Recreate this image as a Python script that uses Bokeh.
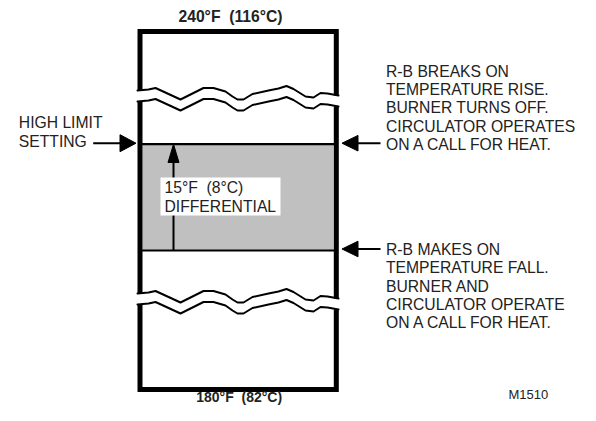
from bokeh.plotting import figure
from bokeh.models import Range1d
from bokeh.core.properties import value
from bokeh.embed import file_html
from bokeh.resources import INLINE

# ---- data ----
temps_f = [240, 180]          # top / bottom of the scale
temps_c = [116, 82]
diff_f, diff_c = 15, 8
high_limit_lines = ["HIGH LIMIT", "SETTING"]
breaks_lines = ["R-B BREAKS ON", "TEMPERATURE RISE.", "BURNER TURNS OFF.",
                "CIRCULATOR OPERATES", "ON A CALL FOR HEAT."]
makes_lines = ["R-B MAKES ON", "TEMPERATURE FALL.", "BURNER AND",
               "CIRCULATOR OPERATE", "ON A CALL FOR HEAT."]
fig_id = "M1510"

# break (wavy cut) outline shape
wave_x = [137, 148, 155, 167, 180, 192, 203, 213, 225, 232, 237, 243, 252,
          268, 278, 286, 293, 305, 313, 320, 327, 338]
wave_y = [90, 89, 87.5, 93, 99, 93, 87.5, 87.5, 91, 96, 99, 99, 93.5,
          90, 88, 85.5, 88.5, 96, 97, 92.5, 93, 95]

# ---- layout ----
XL, XR = 139.5, 335.8
YT, YB = 31, 389
GAP = 11
BOT_SHIFT = 203
HL, LL = 143.7, 250      # high limit / low (make) lines
FONT = value("Liberation Sans")
FS = "15.7px"
TXT = "#222222"
LH = 18.3
DY = -6                  # baseline correction for text placement

p = figure(width=580, height=405, x_range=Range1d(0, 580), y_range=Range1d(405, 0),
           output_backend="svg", toolbar_location=None,
           x_axis_type=None, y_axis_type=None, min_border=0)
p.outline_line_color = None
p.background_fill_color = "white"
p.border_fill_color = "white"

# shaded differential band
p.quad(left=[142], right=[333], top=[HL], bottom=[LL], fill_color="#c0c0c0", line_color=None)
p.segment(x0=[XL, XL], y0=[HL, LL], x1=[XR, XR], y1=[HL, LL], line_color="black", line_width=2.2)

# box frame pieces
top_w_l = wave_y[0]
top_w_r = wave_y[-1]
p.line([XL, XL, XR, XR], [top_w_l, YT, YT, top_w_r], line_width=5, color="black",
       line_join="miter", line_cap="butt")
p.line([XL, XL], [top_w_l + GAP, top_w_l + BOT_SHIFT], line_width=5, color="black", line_cap="butt")
p.line([XR, XR], [top_w_r + GAP, top_w_r + BOT_SHIFT], line_width=5, color="black", line_cap="butt")
p.line([XL, XL, XR, XR], [top_w_l + BOT_SHIFT + GAP, YB, YB, top_w_r + BOT_SHIFT + GAP],
       line_width=5, color="black", line_join="miter", line_cap="butt")

# wavy breaks
for off in (0, GAP, BOT_SHIFT, BOT_SHIFT + GAP):
    p.line(wave_x, [y + off for y in wave_y], line_width=2, color="black",
           line_join="round", line_cap="round")

# differential arrow
p.segment(x0=[173], y0=[LL], x1=[173], y1=[158], line_color="black", line_width=2)
p.patch([173, 167.5, 178.5], [HL, 162, 162], color="black")

# differential text box
p.quad(left=[160], right=[280], top=[177], bottom=[215], fill_color="white", line_color=None)
p.text(x=[164, 164], y=[193.3 + DY, 211.7 + DY],
       text=[f"{diff_f}°F\u00a0 ({diff_c}°C)", "DIFFERENTIAL"],
       text_font=FONT, text_font_size=FS, text_color=TXT,
       text_baseline="alphabetic", text_align="left")

# left arrow (high limit)
p.segment(x0=[92.7], y0=[HL - 1], x1=[121], y1=[HL - 1], line_color="black", line_width=2)
p.patch([135.5, 119.5, 119.5], [HL - 1, HL - 9.5, HL + 7.5], color="black")
p.text(x=[18.3, 18.3], y=[128 + DY, 146.7 + DY], text=high_limit_lines,
       text_font=FONT, text_font_size=FS, text_color=TXT,
       text_baseline="alphabetic", text_align="left")

# right arrows
for ya in (HL - 1, LL - 1.5):
    p.segment(x0=[356], y0=[ya], x1=[380], y1=[ya], line_color="black", line_width=2)
    p.patch([341.5, 357.5, 357.5], [ya, ya - 7.8, ya + 7.8], color="black")

p.text(x=[385.5] * len(breaks_lines), y=[76.7 + DY + i * LH for i in range(len(breaks_lines))],
       text=breaks_lines, text_font=FONT, text_font_size=FS, text_color=TXT,
       text_baseline="alphabetic", text_align="left")
p.text(x=[385.5] * len(makes_lines), y=[255 + DY + i * LH for i in range(len(makes_lines))],
       text=makes_lines, text_font=FONT, text_font_size=FS, text_color=TXT,
       text_baseline="alphabetic", text_align="left")

# scale end labels
p.text(x=[230], y=[21.7 + DY], text=[f"{temps_f[0]}°F\u00a0 ({temps_c[0]}°C)"],
       text_font=FONT, text_font_size=FS, text_font_style="bold", text_color=TXT,
       text_baseline="alphabetic", text_align="center")
p.text(x=[238.7], y=[402 + DY], text=[f"{temps_f[1]}°F\u00a0 ({temps_c[1]}°C)"],
       text_font=FONT, text_font_size="14px", text_font_style="bold", text_color=TXT,
       text_baseline="alphabetic", text_align="center")

p.text(x=[508], y=[400 + DY], text=[fig_id], text_font=FONT, text_font_size="13px",
       text_color=TXT, text_baseline="alphabetic", text_align="left")

open("out.html", "w").write(file_html(p, INLINE))
